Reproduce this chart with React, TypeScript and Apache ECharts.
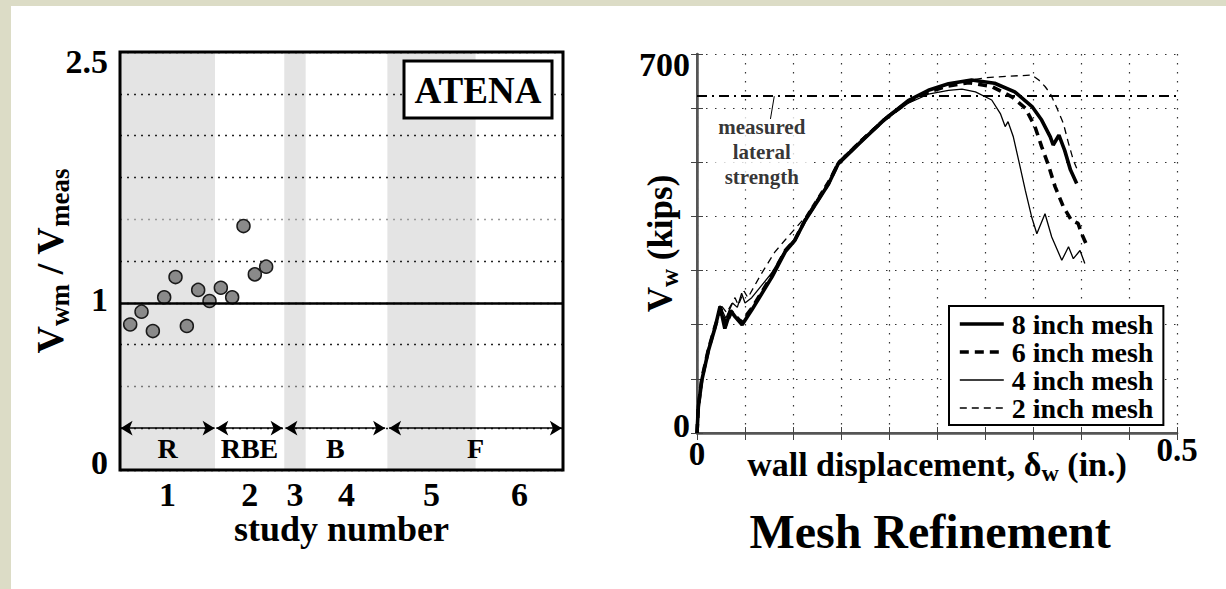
import React, { useEffect, useRef } from 'react';
import * as echarts from 'echarts';

const FONT = '"Liberation Serif", "Times New Roman", Times, serif';

// ---- Left panel: computed / measured strength ratio per specimen ----
const specimenOrder = [1, 2, 3, 4, 5, 6, 7, 8, 9, 10, 11, 12, 13];
const strengthRatio = [0.87, 0.947, 0.831, 1.033, 1.154, 0.861, 1.077, 1.011, 1.09, 1.033, 1.459, 1.17, 1.216];
const ratioAxisLabels = [0, 1, 2.5];
const studyNumbers = ['1', '2', '3', '4', '5', '6'];
const studyEdges = [0.1, 8.5, 14.6, 16.5, 23.7, 31.5, 39.2];
const studyShaded = [true, false, true, false, true, false];
const wallTypes = ['R', 'RBE', 'B', 'F'];
const wallTypeFrom = [0.15, 8.6, 14.7, 23.85];
const wallTypeTo = [8.45, 14.45, 23.5, 39.1];

// ---- Right panel: load vs. wall displacement for each mesh size ----
const meshNames = ['8 inch mesh', '6 inch mesh', '4 inch mesh', '2 inch mesh'];
const mesh8 = [
  [0, 0], [0.0014, 48], [0.005, 97], [0.012, 153], [0.019, 196], [0.024, 234], [0.029, 193], [0.035, 226],
  [0.04, 214], [0.047, 200], [0.057, 227], [0.078, 288], [0.092, 335], [0.102, 356], [0.1125, 392], [0.137, 460],
  [0.147, 497], [0.172, 540], [0.196, 580], [0.22, 614], [0.241, 633], [0.262, 645], [0.286, 652], [0.31, 646],
  [0.331, 630], [0.349, 603], [0.359, 578], [0.368, 547], [0.371, 532], [0.377, 550], [0.383, 522], [0.389, 486],
  [0.3955, 461],
];
const mesh6 = [
  [0, 0], [0.0014, 50], [0.005, 100], [0.012, 155], [0.019, 198], [0.025, 229], [0.03, 200], [0.036, 224],
  [0.046, 205], [0.057, 230], [0.078, 291], [0.092, 337], [0.102, 357], [0.1125, 393], [0.137, 461], [0.147, 498],
  [0.172, 541], [0.196, 580], [0.22, 612], [0.241, 630], [0.262, 641], [0.283, 647], [0.307, 640], [0.328, 621],
  [0.342, 600], [0.352, 566], [0.359, 529], [0.366, 495], [0.373, 455], [0.3816, 418], [0.39, 393], [0.397, 387],
  [0.4007, 368], [0.406, 347],
];
const mesh4 = [
  [0, 0], [0.0014, 50], [0.005, 100], [0.012, 156], [0.019, 200], [0.024, 235], [0.03, 212], [0.037, 240],
  [0.042, 232], [0.0465, 258], [0.05, 240], [0.057, 250], [0.078, 296], [0.092, 339], [0.102, 359], [0.1125, 394],
  [0.137, 461], [0.147, 497], [0.172, 539], [0.196, 578], [0.22, 609], [0.241, 626], [0.262, 633], [0.276, 635],
  [0.29, 630], [0.307, 615], [0.316, 590], [0.321, 566], [0.324, 575], [0.3295, 547], [0.335, 504], [0.342, 448],
  [0.3486, 399], [0.354, 368], [0.3625, 405], [0.3695, 362], [0.38, 319], [0.387, 344], [0.392, 322], [0.399, 337],
  [0.404, 313],
];
const mesh2 = [
  [0, 0], [0.0014, 52], [0.005, 102], [0.012, 158], [0.019, 202], [0.025, 236], [0.031, 222], [0.0396, 250],
  [0.043, 236], [0.049, 262], [0.053, 250], [0.067, 294], [0.081, 334], [0.092, 357], [0.1125, 398], [0.137, 467],
  [0.147, 501], [0.172, 544], [0.196, 583], [0.22, 615], [0.241, 633], [0.269, 648], [0.3, 656], [0.324, 659],
  [0.349, 661], [0.356, 652], [0.3625, 640], [0.368, 627], [0.375, 600], [0.3816, 572], [0.387, 535], [0.392, 504],
  [0.3955, 489],
];
const measuredStrength = 622;
const measuredLabelAt = [0.0675, 519];
const measuredLeader = [[0.0805, 622], [0.0765, 580]];

const RATIO_MIN = 0;
const RATIO_MAX = 2.5;
const LEFT_GRID = { left: 120, top: 52, width: 443, height: 418 };
const RIGHT_GRID = { left: 697, top: 54, width: 480, height: 379 };

const meshStyles = [
  { width: 3.6, type: 'solid' as any },
  { width: 3.6, type: [9, 6] as any },
  { width: 1.3, type: 'solid' as any },
  { width: 1.3, type: [7, 5] as any },
];
const meshData = [mesh8, mesh6, mesh4, mesh2];

const bold = (size: number) => ({ fontSize: size, fontWeight: 'bold' as const, fontFamily: FONT, color: '#000' });

function buildOption(): any {
  const leftGridColors = ['#222', '#222', '#777', '#222', '#222', '#222', '#999', '#222', '#222', '#222', '#222'];
  return {
    animation: false,
    backgroundColor: 'transparent',
    textStyle: { fontFamily: FONT },
    grid: [
      { ...LEFT_GRID, containLabel: false, outerBoundsMode: 'none' },
      { ...RIGHT_GRID, containLabel: false, outerBoundsMode: 'none' },
    ],
    xAxis: [
      {
        gridIndex: 0,
        type: 'value',
        min: studyEdges[0],
        max: studyEdges[studyEdges.length - 1],
        axisLine: { show: false },
        axisTick: { show: false },
        axisLabel: { show: false },
        splitLine: { show: false },
        name: 'study number',
        nameLocation: 'middle',
        nameGap: 41,
        nameMoveOverlap: false,
        nameTextStyle: bold(36),
      },
      {
        gridIndex: 1,
        type: 'value',
        min: 0,
        max: 0.5,
        interval: 0.05,
        axisLine: { show: true, lineStyle: { color: '#555', width: 2.5 } },
        axisTick: { show: true, inside: true, length: 6, lineStyle: { color: '#444', width: 1 } },
        axisLabel: {
          show: true,
          margin: 0,
          ...bold(33),
          formatter: (v: number) => (v === 0 ? '{a|0}' : Math.abs(v - 0.5) < 1e-9 ? '0.5' : ''),
          rich: { a: { ...bold(33), padding: [4, 0, 0, 0] } },
        },
        splitLine: { show: true, lineStyle: { color: '#333', width: 1.2, type: [1.5, 7.5] } },
        name: '{v|wall displacement, δ}{s|w}{v| (in.)}',
        nameLocation: 'middle',
        nameGap: 10,
        nameMoveOverlap: false,
        nameTextStyle: {
          ...bold(34),
          rich: {
            v: { ...bold(34), lineHeight: 42 },
            s: { ...bold(24), lineHeight: 24, verticalAlign: 'bottom' },
          },
        },
      },
      {
        gridIndex: 1,
        type: 'value',
        position: 'top',
        min: 0,
        max: 0.5,
        interval: 0.05,
        axisLine: { show: true, lineStyle: { color: '#555', width: 2 } },
        axisTick: { show: true, inside: true, length: 7, lineStyle: { color: '#444', width: 1 } },
        axisLabel: { show: false },
        splitLine: { show: false },
      },
    ],
    yAxis: [
      {
        gridIndex: 0,
        type: 'value',
        z: 1,
        min: RATIO_MIN,
        max: RATIO_MAX,
        interval: 0.25,
        axisLine: { show: false },
        axisTick: { show: false },
        axisLabel: {
          show: true,
          margin: 12,
          ...bold(34),
          formatter: (v: number) => {
            if (!ratioAxisLabels.includes(v)) return '';
            if (v === RATIO_MAX) return `{hi|${v}}`;
            if (v === RATIO_MIN) return `{lo|${v}}`;
            return `{mid|${v}}`;
          },
          rich: {
            hi: { ...bold(34), padding: [18, 0, 0, 0] },
            mid: { ...bold(34), padding: [0, 0, 6, 0] },
            lo: { ...bold(34), padding: [0, 0, 15, 0] },
          },
        },
        splitLine: { show: true, lineStyle: { color: leftGridColors, width: 1.3, type: [2, 5] } },
        name: '{v|V}{s|wm}{v| / V}{s|meas}',
        nameLocation: 'middle',
        nameRotate: 90,
        nameGap: 47,
        nameMoveOverlap: false,
        nameTextStyle: {
          ...bold(38),
          rich: {
            v: { ...bold(38), lineHeight: 46 },
            s: { ...bold(27), lineHeight: 27, verticalAlign: 'bottom' },
          },
        },
      },
      {
        gridIndex: 1,
        type: 'value',
        min: 0,
        max: 700,
        interval: 100,
        axisLine: { show: true, lineStyle: { color: '#555', width: 2.5 } },
        axisTick: { show: true, inside: true, length: 6, lineStyle: { color: '#444', width: 1 } },
        axisLabel: {
          show: true,
          margin: 7,
          ...bold(34),
          formatter: (v: number) => (v === 700 ? '{hi|700}' : v === 0 ? '{lo|0}' : ''),
          rich: {
            hi: { ...bold(34), padding: [20, 0, 0, 0] },
            lo: { ...bold(34), padding: [0, 0, 15, 0] },
          },
        },
        splitLine: { show: true, lineStyle: { color: '#333', width: 1.2, type: [1.5, 7.5] } },
        name: '{v|V}{s|w}{v| (kips)}',
        nameLocation: 'middle',
        nameRotate: 90,
        nameGap: 15,
        nameMoveOverlap: false,
        nameTextStyle: {
          ...bold(35),
          rich: {
            v: { ...bold(35), lineHeight: 43 },
            s: { ...bold(25), lineHeight: 25, verticalAlign: 'bottom' },
          },
        },
      },
      {
        gridIndex: 1,
        type: 'value',
        position: 'right',
        min: 0,
        max: 700,
        interval: 100,
        axisLine: { show: true, lineStyle: { color: '#555', width: 2 } },
        axisTick: { show: true, inside: true, length: 6, lineStyle: { color: '#444', width: 1 } },
        axisLabel: { show: false },
        splitLine: { show: false },
      },
    ],
    legend: {
      left: 949,
      top: 306,
      orient: 'vertical',
      itemWidth: 44,
      itemHeight: 12,
      itemGap: 0,
      padding: [4, 10, 3, 9],
      borderColor: '#000',
      borderWidth: 2,
      backgroundColor: '#fff',
      selectedMode: false,
      textStyle: { ...bold(28), padding: [0, 0, 0, 3] },
      data: meshNames.map((name, i) => ({
        name,
        itemStyle: { opacity: 0, borderWidth: 0 },
        lineStyle: { color: '#000', width: meshStyles[i].width, type: meshStyles[i].type },
      })),
    },
    series: [
      // study bands with their numbers under the axis
      {
        type: 'custom',
        xAxisIndex: 0,
        yAxisIndex: 0,
        z: 0,
        clip: false,
        silent: true,
        data: studyNumbers.map((_, i) => [studyEdges[i], studyEdges[i + 1]]),
        encode: { x: [0, 1] },
        renderItem: (params: any, api: any) => {
          const i = params.dataIndex;
          const tl = api.coord([api.value(0), RATIO_MAX]);
          const br = api.coord([api.value(1), RATIO_MIN]);
          return {
            type: 'group',
            children: [
              {
                type: 'rect',
                shape: { x: tl[0], y: tl[1], width: br[0] - tl[0], height: br[1] - tl[1] },
                style: { fill: studyShaded[i] ? '#e4e4e4' : '#ffffff' },
              },
              {
                type: 'text',
                x: (tl[0] + br[0]) / 2,
                y: br[1] + 24,
                style: {
                  text: studyNumbers[i],
                  fill: '#000',
                  fontSize: 34,
                  fontWeight: 'bold',
                  fontFamily: FONT,
                  align: 'center',
                  verticalAlign: 'middle',
                },
              },
            ],
          };
        },
      },
      // wall-type spans
      {
        type: 'line',
        xAxisIndex: 0,
        yAxisIndex: 0,
        data: [],
        clip: false,
        silent: true,
        markLine: {
          silent: true,
          symbol: ['arrow', 'arrow'],
          symbolSize: [11, 12],
          lineStyle: { color: '#000', width: 1.5, type: 'solid' },
          label: { show: true, position: 'insideMiddleBottom', distance: 6, formatter: '{b}', ...bold(28) },
          data: wallTypes.map((w, i) => [
            { coord: [wallTypeFrom[i], 0.25], name: w },
            { coord: [wallTypeTo[i], 0.25] },
          ]),
        },
      },
      {
        type: 'scatter',
        name: 'ratio',
        xAxisIndex: 0,
        yAxisIndex: 0,
        z: 3,
        symbolSize: 13,
        itemStyle: { color: '#8a8a8a', borderColor: '#1a1a1a', borderWidth: 1.5, opacity: 1 },
        data: specimenOrder.map((s, i) => [s, strengthRatio[i]]),
        markLine: {
          silent: true,
          symbol: 'none',
          label: { show: false },
          lineStyle: { color: '#000', width: 2.5, type: 'solid' },
          data: [{ yAxis: 1 }],
        },
      },
      ...meshNames.map((name, i) => ({
        type: 'line',
        name,
        xAxisIndex: 1,
        yAxisIndex: 1,
        symbol: 'none',
        showSymbol: false,
        z: 4,
        lineStyle: { color: '#000', width: meshStyles[i].width, type: meshStyles[i].type, cap: 'butt' },
        itemStyle: { color: '#000' },
        data: meshData[i],
      })),
      {
        type: 'scatter',
        name: 'measured',
        xAxisIndex: 1,
        yAxisIndex: 1,
        z: 3,
        symbolSize: 1,
        itemStyle: { color: 'rgba(0,0,0,0)' },
        label: {
          show: true,
          position: 'inside',
          formatter: 'measured\nlateral\nstrength',
          ...bold(21),
          lineHeight: 25,
          align: 'center',
          backgroundColor: '#fff',
          padding: [0, 3],
        },
        data: [measuredLabelAt],
        markLine: {
          silent: true,
          symbol: 'none',
          label: { show: false },
          data: [
            { yAxis: measuredStrength, lineStyle: { color: '#000', width: 2, type: [10, 5, 2, 5] } },
            [
              { coord: measuredLeader[0], lineStyle: { color: '#000', width: 1, type: 'solid' } },
              { coord: measuredLeader[1], lineStyle: { color: '#000', width: 1, type: 'solid' } },
            ],
          ],
        },
      },
    ],
    graphic: {
      elements: [
        {
          type: 'rect',
          silent: true,
          z: 100,
          shape: { x: LEFT_GRID.left, y: LEFT_GRID.top, width: LEFT_GRID.width, height: LEFT_GRID.height },
          style: { fill: 'none', stroke: '#000', lineWidth: 3 },
        },
        {
          type: 'rect',
          silent: true,
          z: 100,
          shape: { x: 404, y: 61, width: 148, height: 57 },
          style: { fill: '#fff', stroke: '#000', lineWidth: 3 },
        },
        {
          type: 'text',
          silent: true,
          z: 101,
          x: 478,
          y: 90,
          style: {
            text: 'ATENA',
            fill: '#000',
            fontSize: 37,
            fontWeight: 'bold',
            fontFamily: FONT,
            align: 'center',
            verticalAlign: 'middle',
          },
        },
        {
          type: 'text',
          silent: true,
          z: 101,
          x: 930,
          y: 531,
          style: {
            text: 'Mesh Refinement',
            fill: '#000',
            fontSize: 48,
            fontWeight: 'bold',
            fontFamily: FONT,
            align: 'center',
            verticalAlign: 'middle',
          },
        },
      ],
    },
  };
}

export default function App() {
  const ref = useRef<HTMLDivElement>(null);

  useEffect(() => {
    if (!ref.current) return;
    const chart = echarts.init(ref.current, undefined, { renderer: 'svg' });
    chart.setOption(buildOption());
    return () => chart.dispose();
  }, []);

  return (
    <div style={{ position: 'fixed', left: 0, top: 0, width: 1226, height: 589, background: '#dcdcc6' }}>
      <div style={{ position: 'absolute', left: 11, top: 6, right: 0, bottom: 0, background: '#ffffff' }} />
      <div ref={ref} style={{ position: 'absolute', left: 0, top: 0, width: 1226, height: 589 }} />
    </div>
  );
}
